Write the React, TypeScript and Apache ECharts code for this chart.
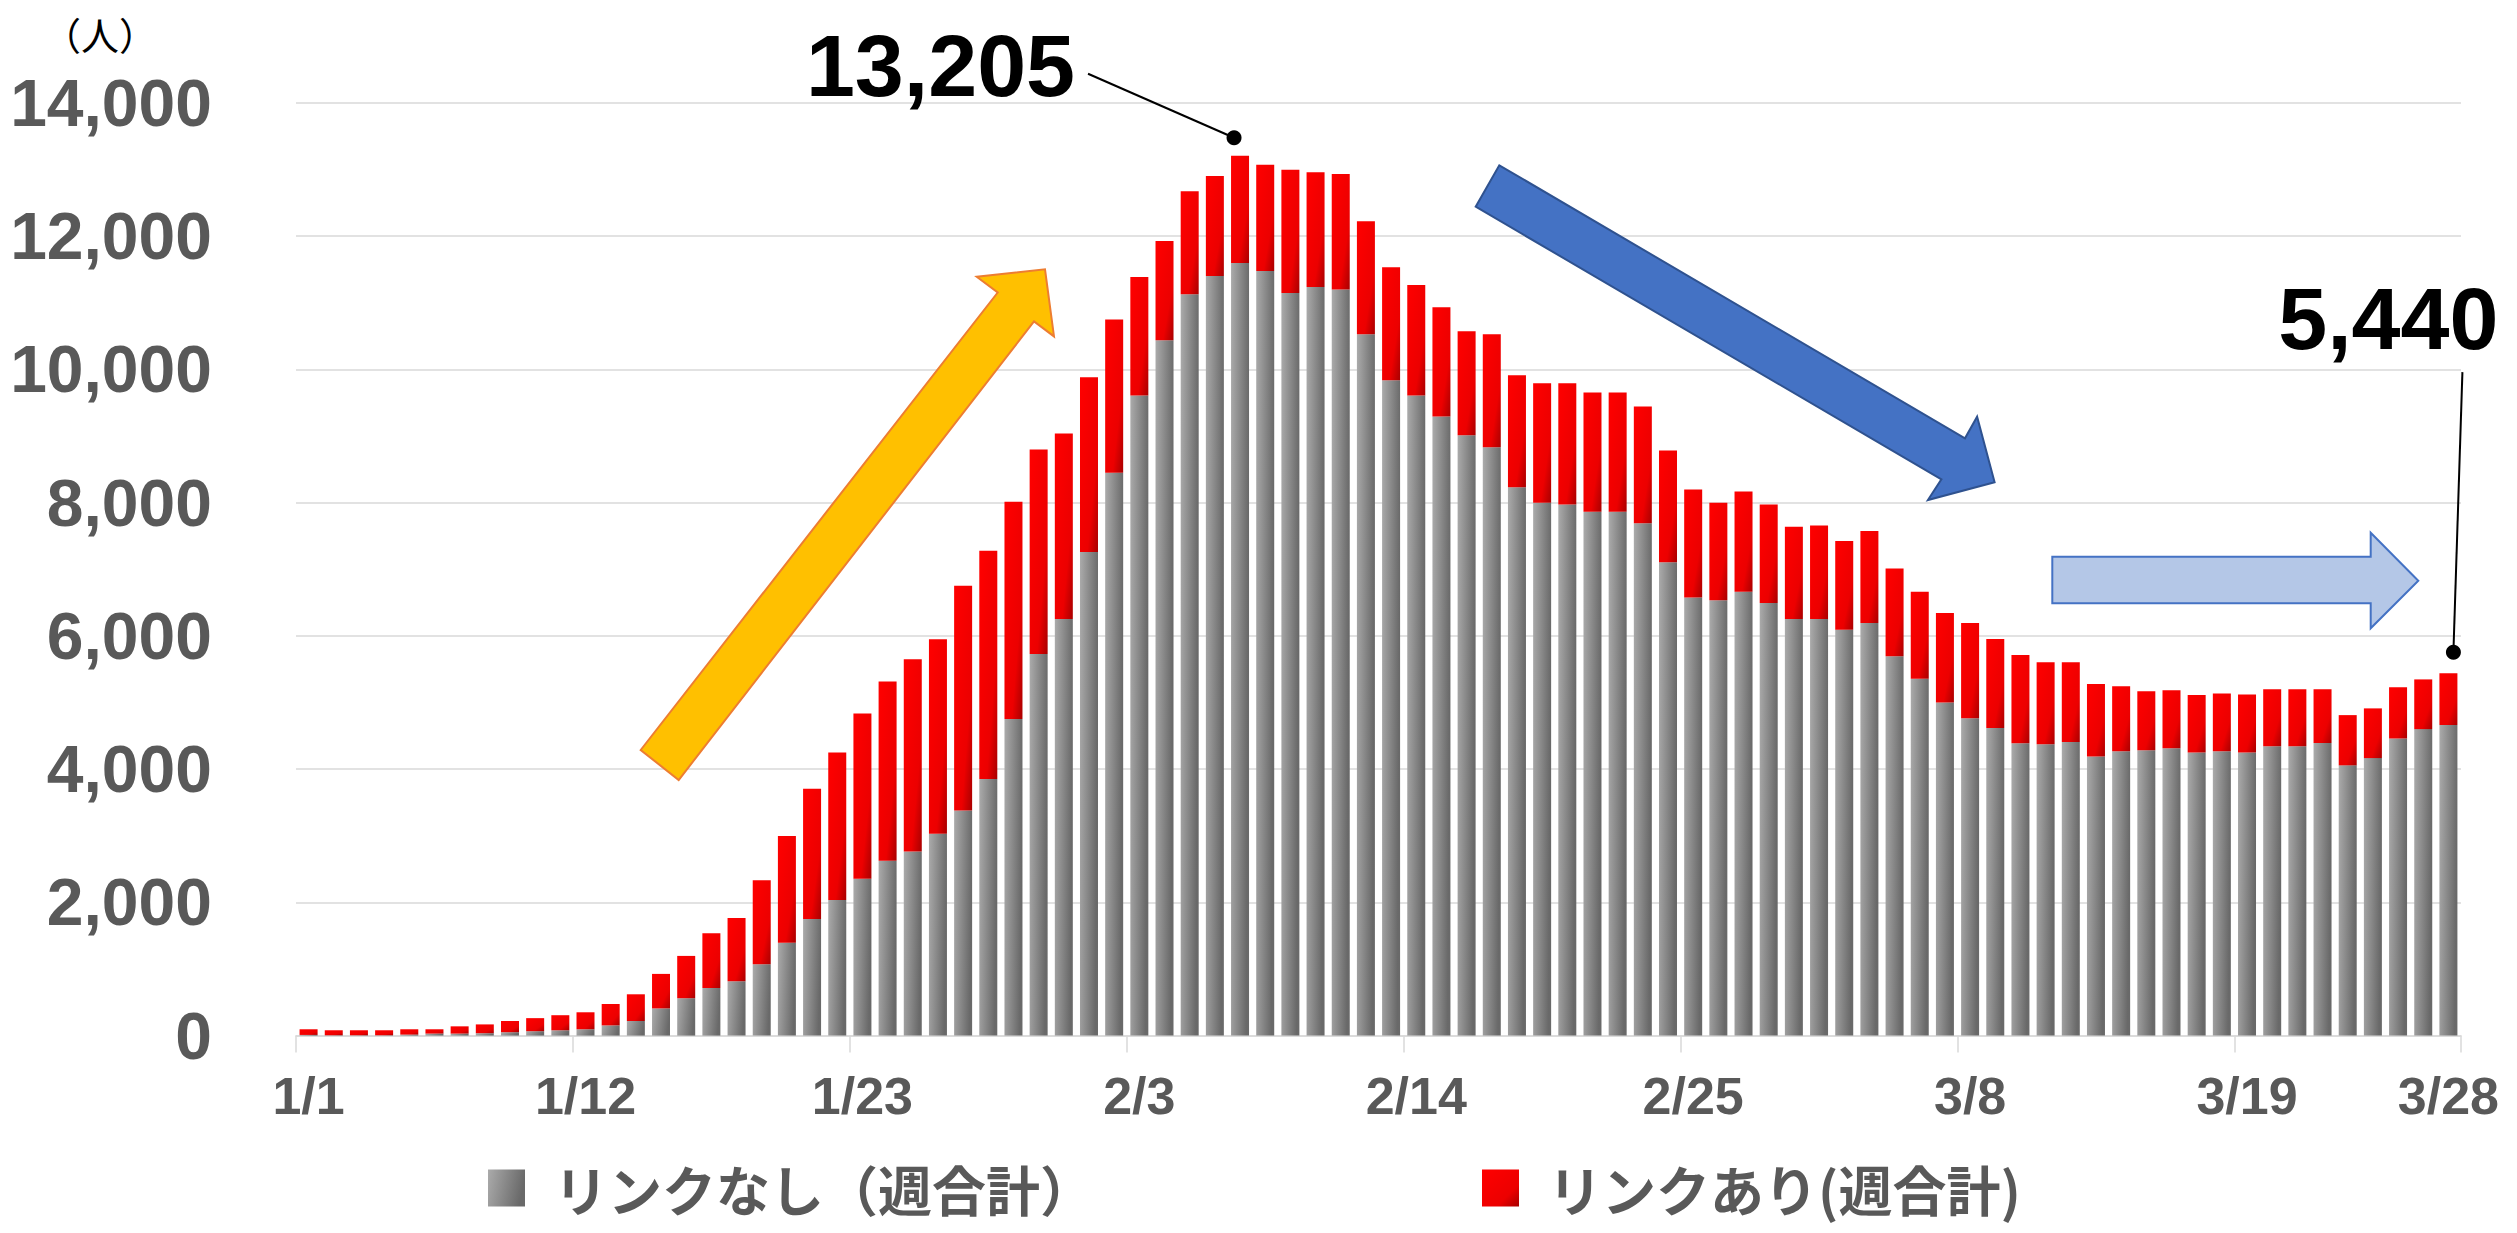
import React, { useEffect, useRef } from "react";
import * as echarts from "echarts";

// 86 daily categories (weekly moving totals)
const categories = [
  "1/1","1/2","1/3","1/4","1/5","1/6","1/7","1/8","1/9","1/10",
  "1/11","1/12","1/13","1/14","1/15","1/16","1/17","1/18","1/19","1/20",
  "1/21","1/22","1/23","1/24","1/25","1/26","1/27","1/28","1/29","1/30",
  "1/31","2/1","2/2","2/3","2/4","2/5","2/6","2/7","2/8","2/9",
  "2/10","2/11","2/12","2/13","2/14","2/15","2/16","2/17","2/18","2/19",
  "2/20","2/21","2/22","2/23","2/24","2/25","2/26","2/27","2/28","3/1",
  "3/2","3/3","3/4","3/5","3/6","3/7","3/8","3/9","3/10","3/11",
  "3/12","3/13","3/14","3/15","3/16","3/17","3/18","3/19","3/20","3/21",
  "3/22","3/23","3/24","3/25","3/26","3/27",
];

// リンクなし（週合計） – grey
const linkNone = [
  10, 5, 5, 5, 15, 30, 30, 36, 51, 66,
  80, 95, 153, 219, 408, 561, 714, 816, 1072, 1392,
  1750, 2034, 2355, 2624, 2764, 3028, 3380, 3850, 4752, 5729,
  6254, 7257, 8446, 9606, 10435, 11126, 11402, 11595, 11475, 11144,
  11236, 11199, 10527, 9836, 9606, 9293, 9010, 8830, 8229, 7997,
  7970, 7861, 7861, 7691, 7105, 6574, 6533, 6662, 6492, 6253,
  6253, 6090, 6192, 5695, 5354, 5000, 4762, 4617, 4388, 4374,
  4406, 4188, 4266, 4281, 4312, 4250, 4266, 4250, 4343, 4343,
  4390, 4056, 4165, 4460, 4600, 4662,
];

// リンクあり(週合計) – red
const linkYes = [
  85, 75, 75, 75, 80, 65, 109, 132, 168, 196,
  226, 255, 321, 401, 518, 635, 824, 948, 1261, 1604,
  1953, 2216, 2478, 2690, 2884, 2920, 3371, 3426, 3261, 3067,
  2781, 2625, 2302, 1778, 1492, 1547, 1501, 1610, 1594, 1851,
  1722, 1732, 1695, 1695, 1658, 1639, 1563, 1697, 1683, 1792,
  1819, 1792, 1792, 1750, 1676, 1621, 1464, 1506, 1478, 1383,
  1404, 1335, 1383, 1315, 1308, 1342, 1430, 1337, 1325, 1230,
  1196, 1088, 979, 886, 871, 863, 870, 870, 855, 855,
  808, 754, 746, 769, 746, 778,
];

const seriesNames = ["リンクなし（週合計）", "リンクあり(週合計)"];
const yMin = 0;
const yMax = 14000;
const yInterval = 2000;
const yUnit = "（人）";
const peakIndex = 37;
const peakText = "13,205";
const lastIndex = 85;
const lastText = "5,440";
const lastAxisText = "3/28";

const fmt = (v: number) => String(v).replace(/\B(?=(\d{3})+(?!\d))/g, ",");

const LABEL_FONT = "'Liberation Sans', Arial, sans-serif";
const JP_FONT = "'Noto Sans CJK JP', sans-serif";

export default function App() {
  const ref = useRef<HTMLDivElement>(null);

  useEffect(() => {
    const chart = echarts.init(ref.current!, null, { renderer: "svg" });

    const greyGrad = new echarts.graphic.LinearGradient(0, 0, 1, 0.2, [
      { offset: 0, color: "#ababab" },
      { offset: 1, color: "#696969" },
    ]);
    const redGrad = new echarts.graphic.LinearGradient(0, 0, 1, 1, [
      { offset: 0, color: "#ff0000" },
      { offset: 0.7, color: "#ec0000" },
      { offset: 1, color: "#a80000" },
    ]);

    const legendCommon = {
      orient: "horizontal",
      top: 1160,
      padding: 0,
      itemWidth: 37,
      itemHeight: 37,
      icon: "rect",
      selectedMode: false,
      textStyle: {
        fontSize: 54,
        lineHeight: 56,
        fontWeight: "bold",
        color: "#595959",
        fontFamily: JP_FONT,
        padding: [0, 0, 0, 24],
      },
    };

    chart.setOption({
      animation: false,
      backgroundColor: "#ffffff",
      grid: { left: 296, right: 56, top: 102.8, bottom: 197.4, containLabel: false },
      legend: [
        { ...legendCommon, left: 488, data: [seriesNames[0]] },
        { ...legendCommon, left: 1482, data: [seriesNames[1]] },
      ],
      xAxis: {
        type: "category",
        data: categories,
        boundaryGap: true,
        axisLine: { show: true, lineStyle: { color: "#d9d9d9", width: 1.5 } },
        axisTick: { show: true, interval: 10, length: 17, alignWithLabel: false, lineStyle: { color: "#d9d9d9", width: 1.5 } },
        axisLabel: {
          interval: 10,
          margin: 34,
          fontSize: 52,
          fontWeight: "bold",
          color: "#595959",
          fontFamily: LABEL_FONT,
        },
        splitLine: { show: false },
      },
      yAxis: {
        type: "value",
        min: yMin,
        max: yMax,
        interval: yInterval,
        axisLine: { show: false },
        axisTick: { show: false },
        splitLine: { show: true, lineStyle: { color: "#d9d9d9", width: 1.5 } },
        axisLabel: {
          margin: 84,
          fontSize: 66,
          fontWeight: "bold",
          color: "#595959",
          fontFamily: LABEL_FONT,
          formatter: (v: number) => fmt(v),
        },
      },
      series: [
        {
          name: seriesNames[0],
          type: "bar",
          stack: "total",
          barWidth: 18,
          data: linkNone,
          itemStyle: { color: greyGrad },
        },
        {
          name: seriesNames[1],
          type: "bar",
          stack: "total",
          barWidth: 18,
          data: linkYes,
          itemStyle: { color: redGrad },
        },
      ],
    });

    const peakTotal = linkNone[peakIndex] + linkYes[peakIndex];
    const lastTotal = linkNone[lastIndex] + linkYes[lastIndex];
    const [px, py] = chart.convertToPixel({ gridIndex: 0 }, [peakIndex, peakTotal]) as number[];
    const [lx, ly] = chart.convertToPixel({ gridIndex: 0 }, [lastIndex, lastTotal]) as number[];
    const [, zeroY] = chart.convertToPixel({ gridIndex: 0 }, [lastIndex, 0]) as number[];

    const peakDot = [px - 6, py - 18];
    const lastDot = [lx + 5, ly - 21];

    chart.setOption({
      graphic: [
        {
          type: "text",
          x: 100,
          y: 33,
          z: 100,
          style: {
            text: yUnit,
            fontSize: 38,
            fill: "#000",
            fontFamily: JP_FONT,
            align: "center",
            verticalAlign: "middle",
          },
        },
        // extra axis label at the last bar
        {
          type: "text",
          x: lx,
          y: zeroY + 34 + 26,
          z: 100,
          style: {
            text: lastAxisText,
            fontSize: 52,
            fontWeight: "bold",
            fill: "#595959",
            fontFamily: LABEL_FONT,
            align: "center",
            verticalAlign: "middle",
          },
        },
        // yellow rising arrow
        {
          type: "polygon",
          z: 50,
          shape: {
            points: [
              [640.7, 750], [997.7, 292.5], [976.7, 276.8], [1045, 269.3],
              [1054, 336.4], [1034, 321.4], [678.7, 780],
            ],
          },
          style: { fill: "#ffc000", stroke: "#ed7d31", lineWidth: 2 },
        },
        // blue falling arrow
        {
          type: "polygon",
          z: 50,
          shape: {
            points: [
              [1499.3, 165.3], [1965, 438.3], [1977.1, 416.7], [1994.6, 482.3],
              [1927.9, 500], [1941.4, 479.3], [1475.7, 206.7],
            ],
          },
          style: { fill: "#4472c4", stroke: "#2f528f", lineWidth: 2 },
        },
        // light blue flat arrow
        {
          type: "polygon",
          z: 50,
          shape: {
            points: [
              [2052.3, 556.7], [2370.7, 556.7], [2370.7, 532.7], [2418.3, 580.7],
              [2370.7, 628.3], [2370.7, 603.3], [2052.3, 603.3],
            ],
          },
          style: { fill: "#b4c7e7", stroke: "#4472c4", lineWidth: 2 },
        },
        // peak annotation
        {
          type: "line",
          z: 60,
          shape: { x1: peakDot[0] - 146, y1: peakDot[1] - 64, x2: peakDot[0], y2: peakDot[1] },
          style: { stroke: "#000", lineWidth: 2 },
        },
        {
          type: "circle",
          z: 61,
          shape: { cx: peakDot[0], cy: peakDot[1], r: 7.5 },
          style: { fill: "#000" },
        },
        {
          type: "text",
          z: 60,
          x: peakDot[0] - 159,
          y: peakDot[1] - 72,
          style: {
            text: peakText,
            fontSize: 88,
            fontWeight: "bold",
            fill: "#000",
            fontFamily: LABEL_FONT,
            align: "right",
            verticalAlign: "middle",
          },
        },
        // last annotation
        {
          type: "line",
          z: 60,
          shape: { x1: lastDot[0] + 9, y1: lastDot[1] - 280, x2: lastDot[0], y2: lastDot[1] },
          style: { stroke: "#000", lineWidth: 2 },
        },
        {
          type: "circle",
          z: 61,
          shape: { cx: lastDot[0], cy: lastDot[1], r: 7.5 },
          style: { fill: "#000" },
        },
        {
          type: "text",
          z: 60,
          x: lastDot[0] + 45,
          y: lastDot[1] - 334,
          style: {
            text: lastText,
            fontSize: 88,
            fontWeight: "bold",
            fill: "#000",
            fontFamily: LABEL_FONT,
            align: "right",
            verticalAlign: "middle",
          },
        },
      ],
    });

    return () => chart.dispose();
  }, []);

  return (
    <div
      ref={ref}
      style={{ position: "fixed", left: 0, top: 0, width: 2517, height: 1233, background: "#ffffff" }}
    />
  );
}
